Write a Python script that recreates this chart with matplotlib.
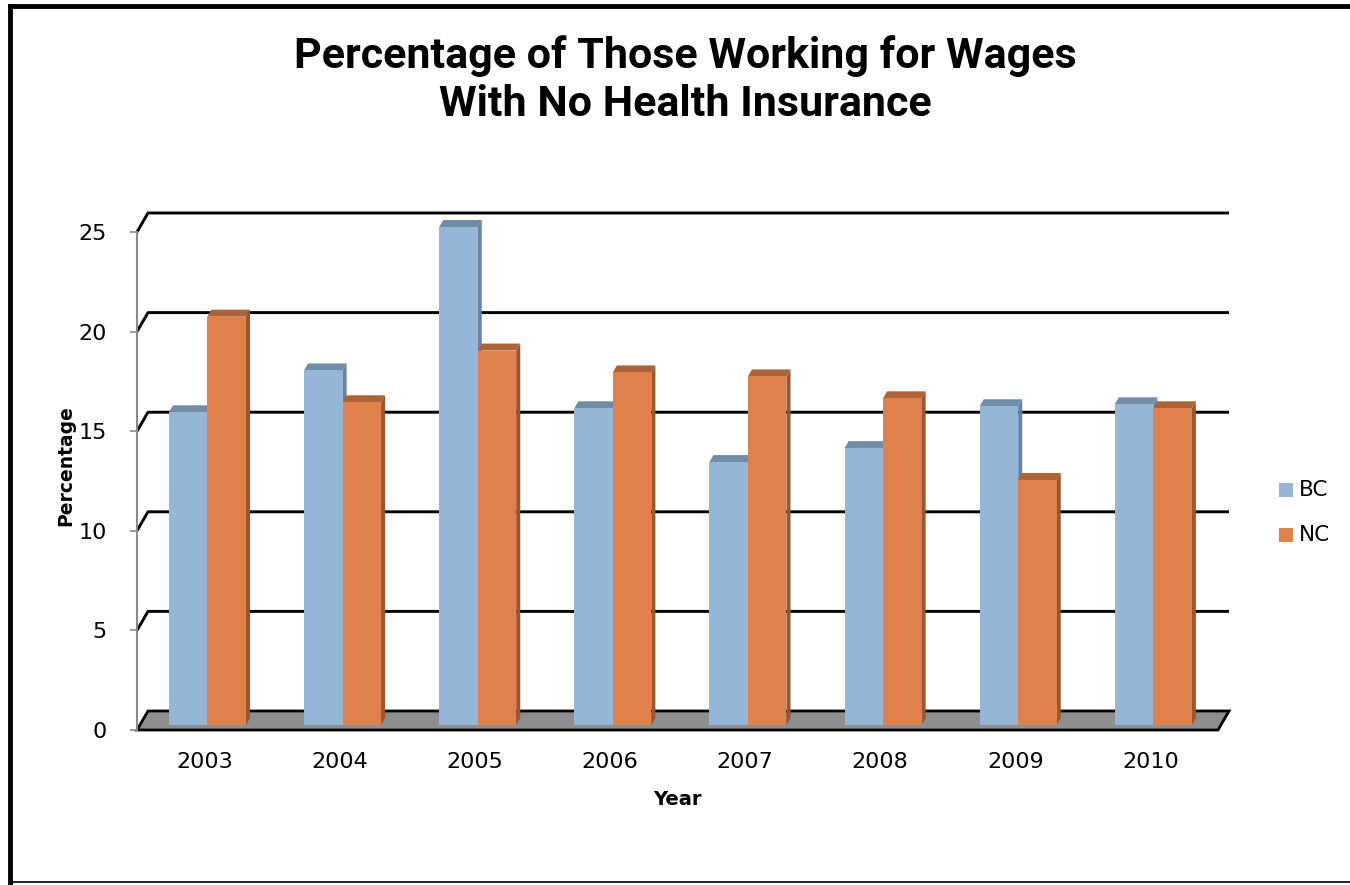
import numpy as np
import matplotlib.pyplot as plt
from matplotlib.patches import Polygon

years = ["2003", "2004", "2005", "2006", "2007", "2008", "2009", "2010"]
bc = [15.7, 17.8, 25.0, 15.9, 13.2, 13.9, 16.0, 16.1]
nc = [20.5, 16.2, 18.8, 17.7, 17.5, 16.4, 12.3, 15.9]
yticks = [0, 5, 10, 15, 20, 25]

bc_col = {"front": "#95b6d6", "top": "#718ca5", "side": "#6883a0"}
nc_col = {"front": "#e0804a", "top": "#ad6337", "side": "#9b5630"}

W, H = 1350, 885
fig = plt.figure(figsize=(W / 100, H / 100), dpi=100)

# front plane of the walls: x -0.5..7.5 -> px 137..1218, y 0 -> px 730, 19.92 px per unit
x0px, x1px = 137, 1218
y0px = 730
ppu = 19.92
ymax = 26.5
ax = fig.add_axes([x0px / W, (H - y0px) / H, (x1px - x0px) / W, ymax * ppu / H])
ax.set_xlim(-0.5, 7.5)
ax.set_ylim(0, ymax)

# depth of the 3d box in data units
DX = 11 / ((x1px - x0px) / 8)
DY = 19 / ppu
f0 = 0.26     # where the bar fronts sit in depth
fd = 0.37     # bar depth
bw = 0.285

# floor
floor = Polygon([(-0.5, 0), (7.5, 0), (7.5 + DX, DY), (-0.5 + DX, DY)],
                closed=True, facecolor="#8e8e8e", edgecolor="black", lw=2,
                zorder=1, clip_on=False)
ax.add_patch(floor)

# back wall gridlines with the slanted side wall piece
for v in yticks[1:]:
    ax.plot([-0.5, -0.5 + DX, 7.5 + DX], [v, v + DY, v + DY], color="black",
            lw=2.1, zorder=1, clip_on=False, solid_capstyle="butt")


def draw_bar(xl, val, col):
    base = f0 * DY
    xl = xl + f0 * DX
    top = base + val
    ax.bar(xl, val, bottom=base, width=bw, align="edge", color=col["front"],
           edgecolor="none", zorder=3)
    ax.add_patch(Polygon([(xl, top), (xl + bw, top), (xl + bw + fd * DX, top + fd * DY),
                          (xl + fd * DX, top + fd * DY)], closed=True,
                         facecolor=col["top"], edgecolor="none", zorder=2, clip_on=False))
    ax.add_patch(Polygon([(xl + bw, base), (xl + bw, top), (xl + bw + fd * DX, top + fd * DY),
                          (xl + bw + fd * DX, base + fd * DY)], closed=True,
                         facecolor=col["side"], edgecolor="none", zorder=2, clip_on=False))


for i in range(len(years)):
    draw_bar(i - bw, bc[i], bc_col)
    draw_bar(i, nc[i], nc_col)

# axes styling
for s in ["top", "right", "bottom"]:
    ax.spines[s].set_visible(False)
ax.spines["left"].set_color("#8a8a8a")
ax.spines["left"].set_linewidth(1.5)
ax.spines["left"].set_bounds(0, 25)
ax.spines["left"].set_zorder(5)
ax.set_yticks(yticks)
ax.tick_params(axis="y", length=5, width=1.2, color="#8a8a8a", pad=17, labelsize=16)
ax.set_xticks(range(len(years)))
ax.set_xticklabels(years)
ax.tick_params(axis="x", length=0, pad=16, labelsize=16)
ax.set_facecolor("none")

ax.set_ylabel("Percentage", fontsize=13.5, fontweight="bold", labelpad=2)
ax.set_xlabel("Year", fontsize=14, fontweight="bold", labelpad=13)

# legend
lx = 1279
for j, (name, col) in enumerate([("BC", bc_col), ("NC", nc_col)]):
    yc = 490 + j * 45
    fig.patches.append(plt.Rectangle((lx / W, (H - yc - 7) / H), 14 / W, 14 / H,
                                     transform=fig.transFigure, facecolor=col["front"],
                                     edgecolor="none"))
    fig.text((lx + 20) / W, (H - yc) / H, name, fontsize=15.5, va="center", ha="left")

fig.text(685 / W, (H - 80) / H,
         "Percentage of Those Working for Wages\nWith No Health Insurance",
         ha="center", va="center", fontsize=31, fontweight="bold",
         family=["Roboto", "DejaVu Sans"], linespacing=1.2)

# chart frame
fig.add_artist(plt.Line2D([10 / W, 10 / W], [0.003, 1 - 6 / H], color="black", lw=3.5,
                          transform=fig.transFigure))
fig.add_artist(plt.Line2D([10 / W, 1.0], [1 - 6 / H, 1 - 6 / H], color="black", lw=3.5,
                          transform=fig.transFigure))
fig.add_artist(plt.Line2D([10 / W, 1.0], [3 / H, 3 / H], color="black", lw=1.2,
                          transform=fig.transFigure))

fig.savefig("out.png", dpi=100)
